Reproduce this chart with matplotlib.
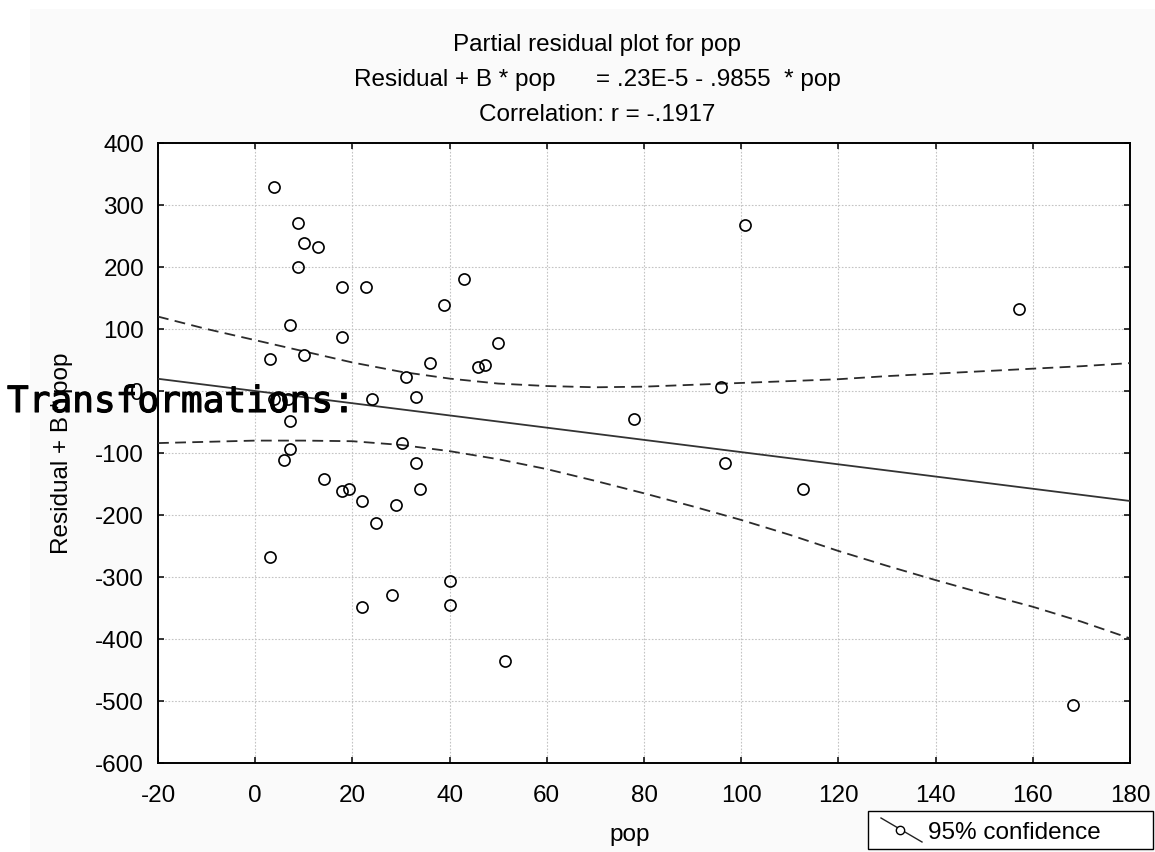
import numpy as np
import matplotlib.pyplot as plt
import matplotlib.patheffects as pe
from matplotlib.patches import Rectangle
from matplotlib.lines import Line2D

W, H = 1155, 852

# data
pop = [3.9, 8.9, 10.1, 12.9, 8.9, 17.9, 22.8, 43.0, 38.9, 7.2,
       17.9, 50.0, 3.1, 10.1, 36.0, 45.8, 47.2, 31.1, 33.1, 24.1,
       3.9, 6.8, 7.2, 30.2, 7.2, 5.9, 14.2, 17.9, 19.2, 22.0,
       24.9, 29.0, 33.1, 34.0, 3.1, 22.0, 28.2, 40.1, 40.1, 51.3,
       100.7, 157.1, 95.8, 77.9, 96.6, 112.8, 168.2]
resid = [329, 271, 239, 232, 200, 168, 168, 181, 139, 106,
         87, 77, 52, 58, 45, 39, 42, 23, -10, -13,
         -13, -13, -48, -84, -94, -112, -142, -161, -158, -177,
         -213, -184, -116, -158, -268, -348, -329, -306, -345, -435,
         267, 132, 6, -45, -116, -158, -506]

band_x = [-20, -10, 0, 10, 20, 30, 40, 50, 60, 70, 80,
          90, 100, 110, 120, 130, 140, 150, 160, 170, 180]
band_upper = [120, 100, 82, 64, 46, 31, 20, 12, 8, 6, 7,
              10, 13, 16, 19, 24, 28, 32, 36, 40, 45]
band_lower = [-84, -82, -80, -80, -81, -87, -97, -110, -126, -145, -165,
              -186, -208, -232, -258, -282, -305, -327, -348, -372, -399]

intercept = 0.23e-5
slope = -0.9855

x_ticks = list(range(-20, 181, 20))
y_ticks = list(range(-600, 401, 100))


def fx(px):
    return px / W


def fy(py):
    return 1 - py / H


plt.rcParams['font.family'] = ['Liberation Sans', 'DejaVu Sans']
plt.rcParams['font.size'] = 17.5
plt.rcParams['axes.unicode_minus'] = False

fig = plt.figure(figsize=(W / 100, H / 100), dpi=100)
fig.patch.set_facecolor('white')
fig.add_artist(Rectangle((fx(30), 0), 1 - fx(30), fy(9), transform=fig.transFigure,
                         facecolor='#fafafa', edgecolor='none', zorder=-10))

ax = fig.add_axes([fx(158), fy(763), fx(1130) - fx(158), fy(143) - fy(763)])
ax.set_facecolor('white')

# 95% confidence band
ax.plot(band_x, band_upper, color='#2b2b2b', lw=1.3, linestyle=(0, (6, 3.5)), zorder=3)
ax.plot(band_x, band_lower, color='#2b2b2b', lw=1.3, linestyle=(0, (6, 3.5)), zorder=3)

# fitted line from the equation in the title
line_x = np.array([-20, 180])
ax.plot(line_x, intercept + slope * line_x, color='#333333', lw=1.3, zorder=3)

ax.plot(pop, resid, linestyle='none', marker='o', ms=8, mfc='none',
        mec='black', mew=1.2, zorder=4)

ax.set_xlim(-20, 180)
ax.set_ylim(-600, 400)
ax.set_xticks(x_ticks)
ax.set_yticks(y_ticks)
ax.grid(True, color='#c4c4c4', lw=0.8, linestyle=(0, (1.5, 1.5)))
ax.tick_params(direction='in', length=4, width=1.1, top=True, right=True, pad=10)
ax.tick_params(axis='x', pad=16)
for s in ax.spines.values():
    s.set_linewidth(1.4)
    s.set_color('black')

ax.set_ylabel('Residual + B * pop')
ax.yaxis.set_label_coords((62 - 158) / 972, 0.5)
ax.yaxis.label.set_va('center')

fig.text(fx(630), fy(841), 'pop', ha='center', va='baseline')

fig.text(fx(597), fy(51), 'Partial residual plot for pop', ha='center', va='baseline')
fig.text(fx(597), fy(86), 'Residual + B * pop      = .23E-5 - .9855  * pop',
         ha='center', va='baseline')
fig.text(fx(597), fy(121), 'Correlation: r = -.1917', ha='center', va='baseline')

# legend box
fig.add_artist(Rectangle((fx(868), fy(849)), fx(1153) - fx(868), fy(811) - fy(849),
                         transform=fig.transFigure, facecolor='white',
                         edgecolor='black', lw=1.0, zorder=5))
fig.add_artist(Line2D([fx(881), fx(922)], [fy(818), fy(842)], transform=fig.transFigure,
                      color='#222222', lw=1.0, zorder=6))
fig.add_artist(Line2D([fx(900)], [fy(830)], transform=fig.transFigure, marker='o',
                      ms=6, mfc='white', mec='black', mew=1.0, zorder=7))
fig.text(fx(928), fy(839), '95% confidence', ha='left', va='baseline', zorder=8)

t = fig.text(fx(7), fy(412), 'Transformations:', family='DejaVu Sans Mono', fontsize=26,
             ha='left', va='baseline', zorder=20)
t.set_path_effects([pe.withStroke(linewidth=0.8, foreground='black')])

fig.savefig('out.png', dpi=100)
